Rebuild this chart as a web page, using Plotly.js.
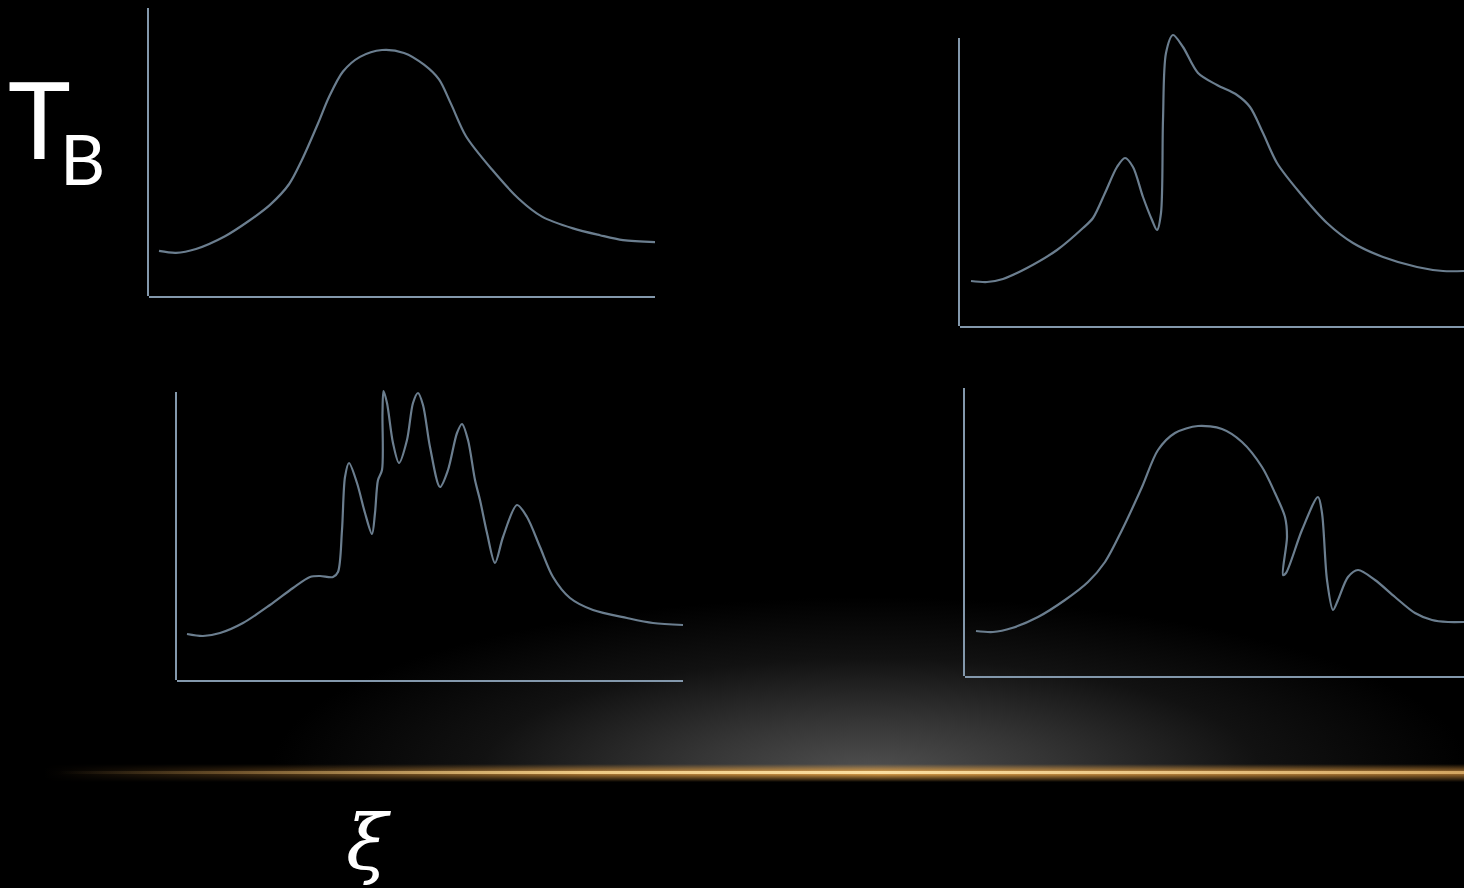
<!DOCTYPE html>
<html>
<head>
<meta charset="utf-8">
<script src="https://cdn.plot.ly/plotly-3.0.1.min.js"></script>
<style>
  html, body { margin: 0; padding: 0; background: #000; width: 1464px; height: 888px; overflow: hidden; }
  #glow { position: absolute; left: 0; top: 0; width: 1464px; height: 772px;
    background: radial-gradient(ellipse 600px 175px at 870px 772px, rgba(80,80,80,1) 0%, rgba(60,60,60,0.88) 30%, rgba(32,32,32,0.55) 65%, rgba(0,0,0,0) 100%); }
  #beamGlow { position: absolute; left: 0; top: 764px; width: 1464px; height: 18px;
    background: linear-gradient(to right, rgba(120,80,20,0) 3%, rgba(150,100,40,0.35) 15%, rgba(200,140,60,0.85) 40%, rgba(215,155,70,1) 60%, rgba(190,130,55,0.8) 100%);
    -webkit-mask-image: linear-gradient(to bottom, rgba(0,0,0,0) 0%, rgba(0,0,0,1) 45%, rgba(0,0,0,1) 55%, rgba(0,0,0,0) 100%);
    mask-image: linear-gradient(to bottom, rgba(0,0,0,0) 0%, rgba(0,0,0,1) 45%, rgba(0,0,0,1) 55%, rgba(0,0,0,0) 100%); }
  #beamCore { position: absolute; left: 0; top: 771px; width: 1464px; height: 3px;
    background: linear-gradient(to right, rgba(200,160,90,0) 4%, rgba(210,165,95,0.35) 16%, rgba(245,210,140,0.9) 40%, rgba(250,222,160,1) 60%, rgba(225,180,110,0.8) 100%); }
  #chart { position: absolute; left: 0; top: 0; width: 1464px; height: 888px; }
</style>
</head>
<body>
<div id="glow"></div>
<div id="beamGlow"></div>
<div id="beamCore"></div>
<div id="chart"></div>
<script>
// Panel 1 (top-left): single smooth peak
const p1X = [10, 27, 47, 76, 99, 121, 140, 153, 169, 180, 194, 211, 233, 255, 275, 290, 302, 317, 343, 370, 393, 424, 451, 474, 506];
const p1Y = [46, 44, 48, 61, 76, 93, 114, 139, 176, 203, 229, 244, 251, 248, 236, 221, 196, 163, 129, 99, 81, 69, 62, 57, 55];

// Panel 2 (top-right): side peak, dip, sharp jump, shoulder
const p2X = [11, 27, 43, 67, 97, 123, 133, 145, 157, 165, 173, 183, 192, 197, 201, 203, 206, 213, 223, 238, 257, 277, 290, 303, 317, 340, 367, 393, 423, 457, 483, 504];
const p2Y = [45, 44, 47, 58, 76, 98, 108, 133, 159, 168, 159, 129, 106, 96, 113, 206, 273, 291, 279, 253, 241, 231, 219, 193, 163, 133, 103, 83, 69, 59, 55, 55];

// Panel 3 (bottom-left): many narrow peaks
const p3X = [10, 26, 43, 66, 93, 116, 133, 143, 156, 161, 165, 168, 172, 180, 188, 195, 198, 201, 205, 205.5, 206.5, 210, 216, 222, 230, 236, 241, 246, 253, 263, 271, 280, 285, 291, 298, 303, 310, 318, 326, 340, 350, 363, 376, 393, 416, 450, 476, 506];
const p3Y = [46, 44, 47, 57, 75, 92, 103, 104, 103, 108, 150, 203, 217, 197, 167, 146, 167, 200, 210, 267, 289, 277, 237, 217, 240, 277, 287, 275, 233, 193, 210, 247, 256, 240, 200, 180, 147, 117, 143, 175, 163, 133, 103, 82, 70, 62, 57, 55];

// Panel 4 (bottom-right): broad peak, then oscillation
const p4X = [11, 28, 47, 73, 100, 123, 140, 157, 177, 193, 210, 233, 257, 277, 297, 310, 320, 322, 318, 321, 337, 353, 357, 362, 368, 373, 383, 393, 410, 430, 450, 467, 483, 499];
const p4Y = [45, 44, 48, 59, 76, 94, 114, 146, 189, 226, 243, 250, 247, 234, 209, 183, 159, 139, 101, 103, 146, 179, 163, 96, 66, 76, 99, 106, 96, 79, 63, 56, 54, 54];

const W = 1464, H = 888;
const axisColor = '#8398ac';
const curveColor = '#6b7e8f';
// panel origins in pixels (left, bottom), axis box 506 x 288
const panels = [
  {x: p1X, y: p1Y, ox: 149, oy: 296},
  {x: p2X, y: p2Y, ox: 960, oy: 326},
  {x: p3X, y: p3Y, ox: 177, oy: 680},
  {x: p4X, y: p4Y, ox: 965, oy: 676}
];
const PW = 506, PH = 288, EXTRA = 14;

const traces = [];
const layout = {
  width: W, height: H,
  margin: {l: 0, r: 0, t: 0, b: 0},
  paper_bgcolor: 'rgba(0,0,0,0)',
  plot_bgcolor: 'rgba(0,0,0,0)',
  showlegend: false,
  annotations: [],
  font: {family: 'Lato, sans-serif', color: '#ffffff'}
};

panels.forEach((p, i) => {
  const n = i + 1;          // data subplot
  const h = i + 5;          // helper subplot (y-axis line)
  const right = Math.min(p.ox + PW, W);
  const xd = [p.ox / W, right / W];
  const yb = (H - p.oy) / H;
  traces.push({
    type: 'scatter', mode: 'lines', x: p.x, y: p.y,
    xaxis: 'x' + n, yaxis: 'y' + n,
    line: {color: curveColor, width: 2.2, shape: 'spline', smoothing: 0.85},
    hoverinfo: 'skip'
  });
  layout['xaxis' + n] = {domain: xd, range: [0, right - p.ox], anchor: 'y' + n,
    showline: true, linecolor: axisColor, linewidth: 2, showgrid: false, zeroline: false,
    showticklabels: false, ticks: '', fixedrange: true};
  layout['yaxis' + n] = {domain: [yb, yb + (PH + EXTRA) / H], range: [0, PH + EXTRA], anchor: 'x' + n,
    showline: false, showgrid: false, zeroline: false, showticklabels: false, ticks: '', fixedrange: true};
  // helper axes: draw the vertical axis line with the exact box height
  traces.push({type: 'scatter', mode: 'lines', x: [], y: [], xaxis: 'x' + h, yaxis: 'y' + h, hoverinfo: 'skip'});
  layout['xaxis' + h] = {domain: xd, range: [0, 1], anchor: 'y' + h, showline: false, showgrid: false,
    zeroline: false, showticklabels: false, ticks: '', fixedrange: true};
  layout['yaxis' + h] = {domain: [yb, yb + PH / H], range: [0, 1], anchor: 'x' + h,
    showline: true, linecolor: axisColor, linewidth: 2, showgrid: false, zeroline: false,
    showticklabels: false, ticks: '', fixedrange: true};
});

layout.annotations.push(
  {text: 'T', xref: 'paper', yref: 'paper', x: 6 / W, y: 1 - 184 / H, xanchor: 'left', yanchor: 'bottom',
   showarrow: false, font: {family: 'Lato, sans-serif', size: 106, color: '#ffffff'}},
  {text: 'B', xref: 'paper', yref: 'paper', x: 58 / W, y: 1 - 202 / H, xanchor: 'left', yanchor: 'bottom',
   showarrow: false, font: {family: 'Lato, sans-serif', size: 70, color: '#ffffff'}},
  {text: '<i>ξ</i>', xref: 'paper', yref: 'paper', x: 368 / W, y: 1 - 842 / H, xanchor: 'center', yanchor: 'middle',
   showarrow: false, font: {family: 'DejaVu Serif, serif', size: 76, color: '#ffffff'}}
);

Plotly.newPlot('chart', traces, layout, {staticPlot: true, displayModeBar: false});
</script>
</body>
</html>
